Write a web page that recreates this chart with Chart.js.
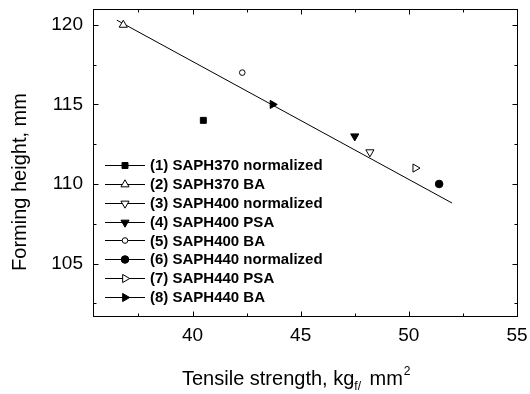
<!DOCTYPE html>
<html>
<head>
<script src="https://cdn.jsdelivr.net/npm/chart.js@4.4.1/dist/chart.umd.min.js"></script>
<title>Forming height vs tensile strength</title>
<style>
  body { margin: 0; background: #fff; }
  #wrap { width: 530px; height: 394px; }
</style>
</head>
<body>
<div id="wrap"><canvas id="formChart" width="530" height="394"></canvas></div>
<script>
// steel grades, in legend order
const grades = [
  '(1) SAPH370 normalized',
  '(2) SAPH370 BA',
  '(3) SAPH400 normalized',
  '(4) SAPH400 PSA',
  '(5) SAPH400 BA',
  '(6) SAPH440 normalized',
  '(7) SAPH440 PSA',
  '(8) SAPH440 BA'
];
// tensile strength, kgf/mm2
const tensile = [40.5, 36.8, 48.2, 47.5, 42.3, 51.4, 50.3, 43.7];
// forming height, mm
const formHeight = [114, 120, 112, 113, 117, 110, 111, 115];
// ends of the fitted line
const fitTensile = [36.5, 52.0];
const fitHeight = [120.3, 108.8];

const xTicks = [40, 45, 50, 55];
const xMinor = [37.5, 42.5, 47.5, 52.5];
const yTicks = [105, 110, 115, 120];
const yMinor = [102.5, 107.5, 112.5, 117.5];

const FONT = '"Liberation Sans", Arial, Helvetica, sans-serif';

// marker look for each grade
const markers = [
  { style: 'rect',     r: 4.2, rot: 0,   filled: true  },
  { style: 'triangle', r: 4.7, rot: 0,   filled: false },
  { style: 'triangle', r: 4.7, rot: 180, filled: false },
  { style: 'triangle', r: 4.7, rot: 180, filled: true  },
  { style: 'circle',   r: 2.8, rot: 0,   filled: false },
  { style: 'circle',   r: 3.8, rot: 0,   filled: true  },
  { style: 'triangle', r: 4.7, rot: 90,  filled: false },
  { style: 'triangle', r: 4.7, rot: 90,  filled: true  }
];

const datasets = grades.map((g, i) => ({
  type: 'scatter',
  label: g,
  data: [{ x: tensile[i], y: formHeight[i] }],
  pointStyle: markers[i].style,
  pointRadius: markers[i].r,
  pointRotation: markers[i].rot,
  pointBackgroundColor: markers[i].filled ? '#000' : '#fff',
  pointBorderColor: '#000',
  pointBorderWidth: 1,
  showLine: false
}));

datasets.push({
  type: 'line',
  label: 'fit',
  data: fitTensile.map((x, i) => ({ x: x, y: fitHeight[i] })),
  borderColor: '#000',
  borderWidth: 1,
  pointRadius: 0,
  fill: false
});

// box, inward ticks, axis titles and legend
const framePlugin = {
  id: 'frame',
  afterDraw(chart) {
    const ctx = chart.ctx;
    const ca = chart.chartArea;
    const xs = chart.scales.x, ys = chart.scales.y;
    const L = Math.round(ca.left) + 0.5, R = Math.round(ca.right) + 0.5;
    const T = Math.round(ca.top) + 0.5, B = Math.round(ca.bottom) + 0.5;

    ctx.save();
    ctx.strokeStyle = '#000';
    ctx.lineWidth = 1;
    ctx.strokeRect(L, T, R - L, B - T);

    ctx.beginPath();
    const xt = (vals, len) => vals.forEach(v => {
      const p = Math.round(xs.getPixelForValue(v)) + 0.5;
      ctx.moveTo(p, B); ctx.lineTo(p, B - len);
      ctx.moveTo(p, T); ctx.lineTo(p, T + len);
    });
    const yt = (vals, len) => vals.forEach(v => {
      const p = Math.round(ys.getPixelForValue(v)) + 0.5;
      ctx.moveTo(L, p); ctx.lineTo(L + len, p);
      ctx.moveTo(R, p); ctx.lineTo(R - len, p);
    });
    xt(xTicks, 5); xt(xMinor, 3);
    yt(yTicks, 5); yt(yMinor, 3);
    ctx.stroke();

    // y title
    ctx.fillStyle = '#000';
    ctx.font = '20px ' + FONT;
    ctx.save();
    ctx.translate(26, 182);
    ctx.rotate(-Math.PI / 2);
    ctx.textAlign = 'center';
    ctx.textBaseline = 'alphabetic';
    ctx.fillText('Forming height, mm', 0, 0);
    ctx.restore();

    // x title with sub/superscript
    const big = '20px ' + FONT, small = '12px ' + FONT;
    const parts = [
      { t: 'Tensile strength, kg', f: big, dy: 0, gap: 0 },
      { t: 'f/', f: small, dy: 5, gap: 0 },
      { t: ' mm', f: big, dy: 0, gap: 3 },
      { t: '2', f: small, dy: -10, gap: 1 }
    ];
    let x = 182;
    const base = 385;
    ctx.textAlign = 'left';
    ctx.textBaseline = 'alphabetic';
    parts.forEach(p => {
      ctx.font = p.f;
      x += p.gap;
      ctx.fillText(p.t, x, base + p.dy);
      x += ctx.measureText(p.t).width;
    });

    // legend
    ctx.font = 'bold 15px ' + FONT;
    ctx.textBaseline = 'middle';
    for (let i = 0; i < grades.length; i++) {
      const y = 165 + i * 18.85;
      ctx.beginPath();
      ctx.moveTo(105, Math.round(y) + 0.5);
      ctx.lineTo(145, Math.round(y) + 0.5);
      ctx.stroke();
      ctx.fillStyle = markers[i].filled ? '#000' : '#fff';
      Chart.helpers.drawPoint(ctx, {
        pointStyle: markers[i].style,
        radius: markers[i].r,
        rotation: markers[i].rot,
        borderWidth: 1
      }, 125, Math.round(y) + 0.5);
      ctx.fillStyle = '#000';
      ctx.fillText(grades[i], 150, y + 1);
    }
    ctx.restore();
  }
};

new Chart(document.getElementById('formChart'), {
  data: { datasets: datasets },
  options: {
    responsive: false,
    animation: false,
    layout: { padding: { left: 0, right: 13, top: 9, bottom: 0 } },
    plugins: { legend: { display: false }, tooltip: { enabled: false } },
    scales: {
      x: {
        type: 'linear',
        min: 35.4,
        max: 55,
        grid: { display: false },
        border: { display: false },
        ticks: { color: '#000', font: { size: 19, family: FONT }, padding: 0 },
        afterBuildTicks(s) { s.ticks = xTicks.map(v => ({ value: v })); },
        afterFit(s) { s.height = 78; s.paddingLeft = 0; s.paddingRight = 0; }
      },
      y: {
        type: 'linear',
        min: 101.7,
        max: 121,
        grid: { display: false },
        border: { display: false },
        ticks: { color: '#000', font: { size: 19, family: FONT }, padding: 2 },
        afterBuildTicks(s) { s.ticks = yTicks.map(v => ({ value: v })); },
        afterFit(s) { s.width = 93; s.paddingTop = 0; s.paddingBottom = 0; }
      }
    }
  },
  plugins: [framePlugin]
});
</script>
</body>
</html>
